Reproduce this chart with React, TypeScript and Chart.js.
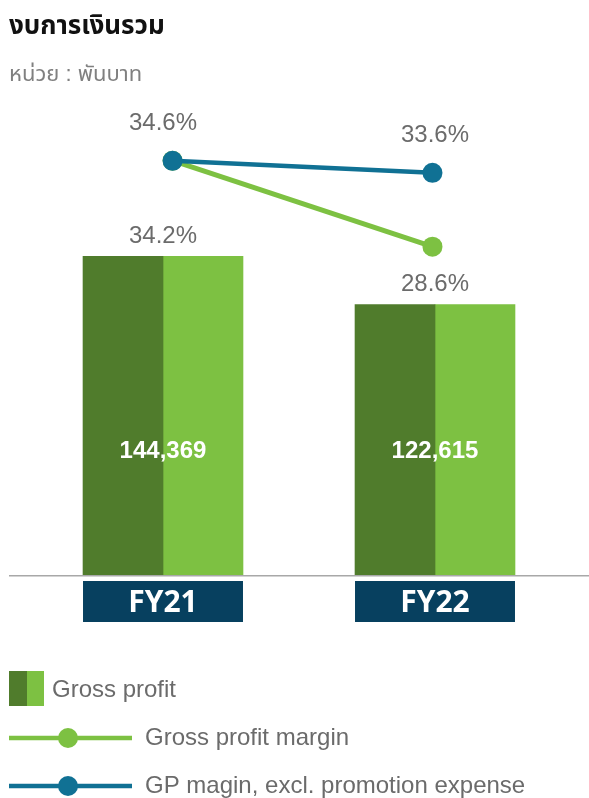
import React, { useEffect, useRef } from "react";
import { Chart, registerables } from "chart.js";

Chart.register(...registerables);

const categories = ["FY21", "FY22"];
const grossProfit = [144369, 122615];
const grossProfitLabels = ["144,369", "122,615"];
const gpMargin = [34.2, 28.6];
const gpMarginExclPromo = [34.6, 33.6];
const titleText = "งบการเงินรวม";
const unitText = "หน่วย : พันบาท";
const legendLabels = ["Gross profit", "Gross profit margin", "GP magin, excl. promotion expense"];

const DARK = "#507c2c";
const LIGHT = "#7dc142";
const BLUE = "#107194";
const NAVY = "#07405f";
const GRAY_TEXT = "#6b6b6b";
const FONT = "'Liberation Sans', Arial, 'Noto Sans Thai', 'Noto Sans', sans-serif";

const decor = {
  id: "decor",
  afterDraw(chart: any) {
    const { ctx, chartArea } = chart;
    const bottom = chartArea.bottom;
    ctx.save();
    ctx.textBaseline = "middle";
    ctx.textAlign = "left";
    ctx.fillStyle = "#111";
    ctx.font = `bold 26px ${FONT}`;
    ctx.fillText(titleText, 9, 27);
    ctx.fillStyle = "#808080";
    ctx.font = `22px ${FONT}`;
    ctx.fillText(unitText, 9, 75);

    // base line
    ctx.strokeStyle = "#a8a8a8";
    ctx.lineWidth = 1.5;
    ctx.beginPath();
    ctx.moveTo(9, bottom - 0.25);
    ctx.lineTo(chart.width, bottom - 0.25);
    ctx.stroke();

    const m0 = chart.getDatasetMeta(0);
    const m1 = chart.getDatasetMeta(1);
    const m3 = chart.getDatasetMeta(3);
    categories.forEach((cat, i) => {
      const d = m0.data[i];
      const l = m1.data[i];
      const left = d.x - d.width / 2;
      const right = l.x + l.width / 2;
      const cx = (left + right) / 2;
      ctx.fillStyle = NAVY;
      ctx.fillRect(left, bottom + 5, right - left, 41);
      ctx.fillStyle = "#fff";
      ctx.textAlign = "center";
      ctx.font = `bold 30px 'Open Sans', ${FONT}`;
      ctx.fillText(cat, cx, bottom + 27);
      ctx.font = `bold 24px ${FONT}`;
      ctx.fillText(grossProfitLabels[i], cx, bottom - 125);
      ctx.fillStyle = GRAY_TEXT;
      ctx.font = `24px ${FONT}`;
      ctx.fillText(gpMargin[i].toFixed(1) + "%", cx, d.y - 20);
      const p = m3.data[i];
      ctx.fillText(gpMarginExclPromo[i].toFixed(1) + "%", cx, p.y - 37);
    });

    // legend
    ctx.textAlign = "left";
    ctx.fillStyle = DARK;
    ctx.fillRect(9, 671, 18, 35);
    ctx.fillStyle = LIGHT;
    ctx.fillRect(27, 671, 17, 35);
    ctx.fillStyle = GRAY_TEXT;
    ctx.font = `24px ${FONT}`;
    ctx.fillText(legendLabels[0], 52, 690);

    const legendLine = (y: number, color: string, w: number, label: string) => {
      ctx.strokeStyle = color;
      ctx.lineWidth = w;
      ctx.beginPath();
      ctx.moveTo(9, y);
      ctx.lineTo(132, y);
      ctx.stroke();
      ctx.fillStyle = color;
      ctx.beginPath();
      ctx.arc(68, y, 10, 0, Math.PI * 2);
      ctx.fill();
      ctx.fillStyle = GRAY_TEXT;
      ctx.fillText(label, 145, y);
    };
    legendLine(738, LIGHT, 4.5, legendLabels[1]);
    legendLine(786, BLUE, 4.5, legendLabels[2]);
    ctx.restore();
  },
};

const toXY = (arr: number[]) => arr.map((v, i) => ({ x: i, y: v })) as any;

export default function App() {
  const ref = useRef<HTMLCanvasElement>(null);
  useEffect(() => {
    const hiddenLinear = (min: number, max: number) => ({
      type: "linear" as const,
      display: false,
      offset: false,
      min,
      max,
    });
    const chart = new Chart(ref.current!, {
      type: "bar",
      data: {
        labels: categories,
        datasets: [
          {
            type: "bar",
            label: legendLabels[0],
            data: toXY(grossProfit),
            backgroundColor: DARK,
            yAxisID: "y",
            xAxisID: "xd",
            grouped: false,
            barThickness: 80,
            order: 3,
          },
          {
            type: "bar",
            label: legendLabels[0],
            data: toXY(grossProfit),
            backgroundColor: LIGHT,
            yAxisID: "y",
            xAxisID: "xl",
            grouped: false,
            barThickness: 80,
            order: 3,
          },
          {
            type: "line",
            label: legendLabels[1],
            data: toXY(gpMargin),
            borderColor: LIGHT,
            backgroundColor: LIGHT,
            borderWidth: 5,
            pointRadius: 10,
            pointBorderWidth: 0,
            yAxisID: "y1",
            xAxisID: "xp",
            order: 1,
          },
          {
            type: "line",
            label: legendLabels[2],
            data: toXY(gpMarginExclPromo),
            borderColor: BLUE,
            backgroundColor: BLUE,
            borderWidth: 4.5,
            pointRadius: 10,
            pointBorderWidth: 0,
            yAxisID: "y2",
            xAxisID: "xp",
            order: 0,
          },
        ],
      },
      options: {
        animation: false,
        responsive: true,
        maintainAspectRatio: false,
        layout: { padding: { left: 27, right: 18, top: 100, bottom: 222 } },
        plugins: { legend: { display: false }, tooltip: { enabled: false } },
        scales: {
          xd: hiddenLinear(-0.353, 1.647),
          xl: hiddenLinear(-0.647, 1.353),
          xp: hiddenLinear(-0.56, 1.533),
          y: { display: false, min: 0, max: 215000 },
          y1: { display: false, min: 7.16, max: 38.15 },
          y2: { display: false, min: 0, max: 39.67 },
        },
      },
      plugins: [decor],
    });
    return () => chart.destroy();
  }, []);
  return (
    <div style={{ position: "fixed", left: 0, top: 0, width: 589, height: 798, background: "#fff" }}>
      <canvas ref={ref} />
    </div>
  );
}
